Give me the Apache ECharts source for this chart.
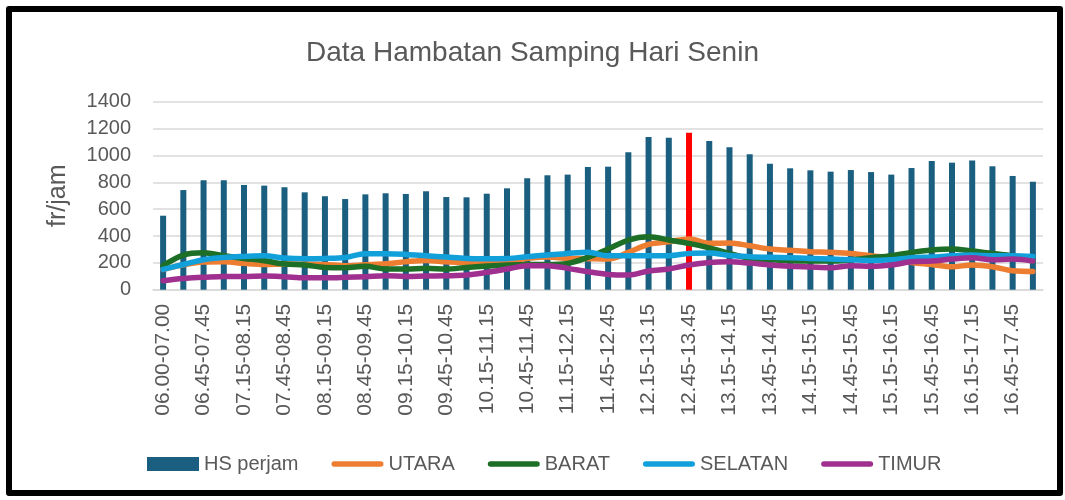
<!DOCTYPE html>
<html>
<head>
<meta charset="utf-8">
<script src="https://cdn.jsdelivr.net/npm/echarts@6/dist/echarts.min.js"></script>
<style>
html,body{margin:0;padding:0;background:#fff;}
#wrap{position:relative;width:1065px;height:500px;}
#chart{position:absolute;left:0;top:0;width:1065px;height:500px;}
#frame{position:absolute;left:6px;top:6px;width:1045px;height:478px;border:6px solid #000;border-radius:3px;pointer-events:none;}
</style>
</head>
<body>
<div id="wrap"><div id="chart"></div><div id="frame"></div></div>
<script>
const categories = ["06.00-07.00","06.30-07.30","06.45-07.45","07.00-08.00","07.15-08.15","07.30-08.30","07.45-08.45","08.00-09.00","08.15-09.15","08.30-09.30","08.45-09.45","09.00-10.00","09.15-10.15","09.30-10.30","09.45-10.45","10.00-11.00","10.15-11.15","10.30-11.30","10.45-11.45","11.00-12.00","11.15-12.15","11.30-12.30","11.45-12.45","12.00-13.00","12.15-13.15","12.30-13.30","12.45-13.45","13.00-14.00","13.15-14.15","13.30-14.30","13.45-14.45","14.00-15.00","14.15-15.15","14.30-15.30","14.45-15.45","15.00-16.00","15.15-16.15","15.30-16.30","15.45-16.45","16.00-17.00","16.15-17.15","16.30-17.30","16.45-17.45","17.00-18.00"];
const hsPerjam = [551,742,815,815,780,775,763,725,696,675,710,718,713,733,690,688,715,755,830,852,857,914,916,1023,1137,1132,1169,1107,1060,1008,938,904,889,879,891,876,857,906,958,946,963,919,847,804];
const utara = [150,185,206,208,196,188,191,191,188,179,186,193,208,218,208,201,203,213,233,243,233,231,228,278,337,357,378,345,348,327,303,293,283,278,270,253,233,203,188,171,184,171,141,136];
const barat = [179,258,275,253,233,216,191,184,166,164,174,154,154,159,154,166,176,184,188,188,196,240,303,370,394,370,345,312,270,233,223,216,213,213,223,238,253,278,295,303,288,270,253,213];
const selatan = [151,188,223,240,248,253,236,231,233,240,268,268,263,253,243,233,231,233,246,258,270,278,253,253,253,253,270,273,255,246,241,238,233,228,223,218,223,238,243,253,258,253,253,248];
const timur = [67,84,92,99,99,102,97,89,89,92,97,104,99,102,104,109,129,154,179,179,159,134,114,109,139,154,184,203,208,198,184,174,169,164,179,174,184,208,213,228,238,223,228,213];
const peakIndex = 26;
const yTicks = {min:0, max:1400, interval:200};

const FONT = "'Liberation Sans', Arial, sans-serif";
const TXT = '#595959';
const BAR = '#1a5e80';
// thin rounded line icon inside a 52x14 box (the two moves fix the box size)
const LINE_ICON = 'path://M0,0 M52,14 M2.8,4.2 L49.2,4.2 A2.8,2.8 0 0 1 49.2,9.8 L2.8,9.8 A2.8,2.8 0 0 1 2.8,4.2 Z';

const barData = hsPerjam.map((v,i)=> i===peakIndex ? {value:v, itemStyle:{color:'#ff0000'}} : v);

function lineSeries(name, data, color){
  return {name, type:'line', data, smooth:0.35, symbol:'none', showSymbol:false,
    lineStyle:{color, width:5.5, cap:'round', join:'round'}, itemStyle:{color}};
}

const chart = echarts.init(document.getElementById('chart'), null, {renderer:'canvas'});
chart.setOption({
  animation:false,
  backgroundColor:'#ffffff',
  title:{text:'Data Hambatan Samping Hari Senin', left:'center', top:34,
    textStyle:{fontFamily:FONT, fontSize:28, fontWeight:'normal', color:TXT}},
  legend:{left:142, top:449, itemWidth:52, itemHeight:14, itemGap:33,
    textStyle:{fontFamily:FONT, fontSize:20, color:TXT},
    data:[
      {name:'HS perjam', icon:'rect'},
      {name:'UTARA', icon:LINE_ICON},
      {name:'BARAT', icon:LINE_ICON},
      {name:'SELATAN', icon:LINE_ICON},
      {name:'TIMUR', icon:LINE_ICON}
    ]},
  grid:{left:153, right:22, top:101.7, bottom:210.3, containLabel:false},
  xAxis:{type:'category', data:categories, boundaryGap:true,
    axisLine:{lineStyle:{color:'#d9d9d9', width:1.5}}, axisTick:{show:false},
    axisLabel:{rotate:90, interval:1, margin:14, color:TXT, fontFamily:FONT, fontSize:21}},
  yAxis:{type:'value', min:yTicks.min, max:yTicks.max, interval:yTicks.interval,
    name:'fr/jam', nameLocation:'middle', nameGap:82, nameRotate:90,
    nameTextStyle:{fontFamily:FONT, fontSize:25, color:TXT},
    axisLine:{show:false}, axisTick:{show:false},
    axisLabel:{margin:22, color:TXT, fontFamily:FONT, fontSize:20, formatter:v=>String(v)},
    splitLine:{lineStyle:{color:'#d9d9d9', width:1.5}}},
  series:[
    {name:'HS perjam', type:'bar', data:barData, barWidth:6, itemStyle:{color:BAR}},
    lineSeries('UTARA', utara, '#ed7d31'),
    lineSeries('BARAT', barat, '#1d6e26'),
    lineSeries('SELATAN', selatan, '#12a0db'),
    lineSeries('TIMUR', timur, '#a0308f')
  ]
});
</script>
</body>
</html>
